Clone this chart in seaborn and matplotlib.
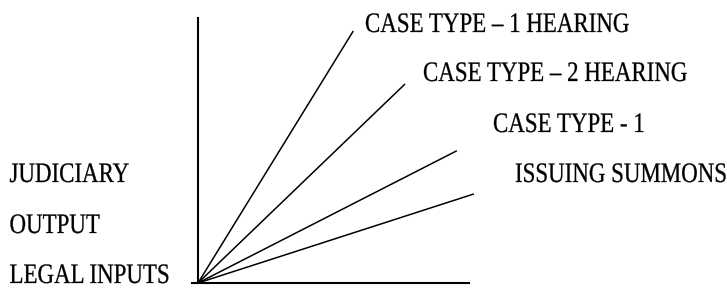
import matplotlib
matplotlib.use("Agg")
import matplotlib.pyplot as plt
import seaborn as sns
import pandas as pd
from matplotlib.patheffects import AbstractPathEffect
from matplotlib.transforms import Affine2D

# ---- data ----
series = ["CASE TYPE – 1 HEARING", "CASE TYPE – 2 HEARING", "CASE TYPE - 1", "ISSUING SUMMONS"]
end_x = [57.3, 76.4, 95.5, 101.8]
end_y = [95.1, 75.1, 49.9, 33.6]
y_labels = ["JUDICIARY", "OUTPUT", "LEGAL INPUTS"]

sns.set_style("white")
plt.rcParams["font.family"] = ["Liberation Serif", "DejaVu Serif"]


class Tall(AbstractPathEffect):
    """Stretch glyphs vertically around the text baseline origin, with a light stroke."""
    def __init__(self, sy, lw=0.2):
        super().__init__()
        self.sy = sy
        self.lw = lw

    def draw_path(self, renderer, gc, tpath, affine, rgbFace=None):
        aff = Affine2D().scale(1, self.sy) + affine
        gc0 = renderer.new_gc()
        gc0.copy_properties(gc)
        gc0.set_linewidth(self.lw)
        gc0.set_foreground("black")
        gc0.set_joinstyle("round")
        renderer.draw_path(gc0, tpath, aff, rgbFace)
        gc0.restore()


rows = []
for name, ex, ey in zip(series, end_x, end_y):
    rows.append({"series": name, "x": 0.0, "y": 0.0})
    rows.append({"series": name, "x": ex, "y": ey})
df = pd.DataFrame(rows)

W, H = 727, 291
fig = plt.figure(figsize=(W / 100, H / 100), dpi=100)
ax_left, ax_right, ax_bottom, ax_top = 192, 469, 283, 18
ax = fig.add_axes([ax_left / W, 1 - ax_bottom / H, (ax_right - ax_left) / W, (ax_bottom - ax_top) / H])

sns.lineplot(data=df, x="x", y="y", hue="series", palette=["black"] * 4,
             legend=False, sort=False, estimator=None, linewidth=1.1, ax=ax)
for ln in ax.get_lines():
    ln.set_clip_on(False)
    ln.set_solid_capstyle("butt")

ax.set_xlim(-6 / 2.71, 100)
ax.set_ylim(0, 100)
ax.spines["left"].set_position(("data", 0))
ax.spines["right"].set_visible(False)
ax.spines["top"].set_visible(False)
for s in ("left", "bottom"):
    ax.spines[s].set_color("black")
    ax.spines[s].set_linewidth(1.5)
ax.set_xticks([])
ax.set_yticks([])
ax.set_xlabel("")
ax.set_ylabel("")
ax.patch.set_alpha(0)

fs = 16.5
tall = [Tall(1.23)]
series_pos = [(365, 32), (423, 81), (493, 132), (515, 182)]
for txt, (px, py) in zip(series, series_pos):
    fig.text(px / W, 1 - py / H, txt, fontsize=fs, ha="left", va="baseline",
             color="black", path_effects=tall)

ylab_pos = [(9.5, 182), (9.5, 233), (9.5, 283)]
for txt, (px, py) in zip(y_labels, ylab_pos):
    fig.text(px / W, 1 - py / H, txt, fontsize=fs, ha="left", va="baseline",
             color="black", path_effects=tall)

fig.savefig("out.png", dpi=100)
